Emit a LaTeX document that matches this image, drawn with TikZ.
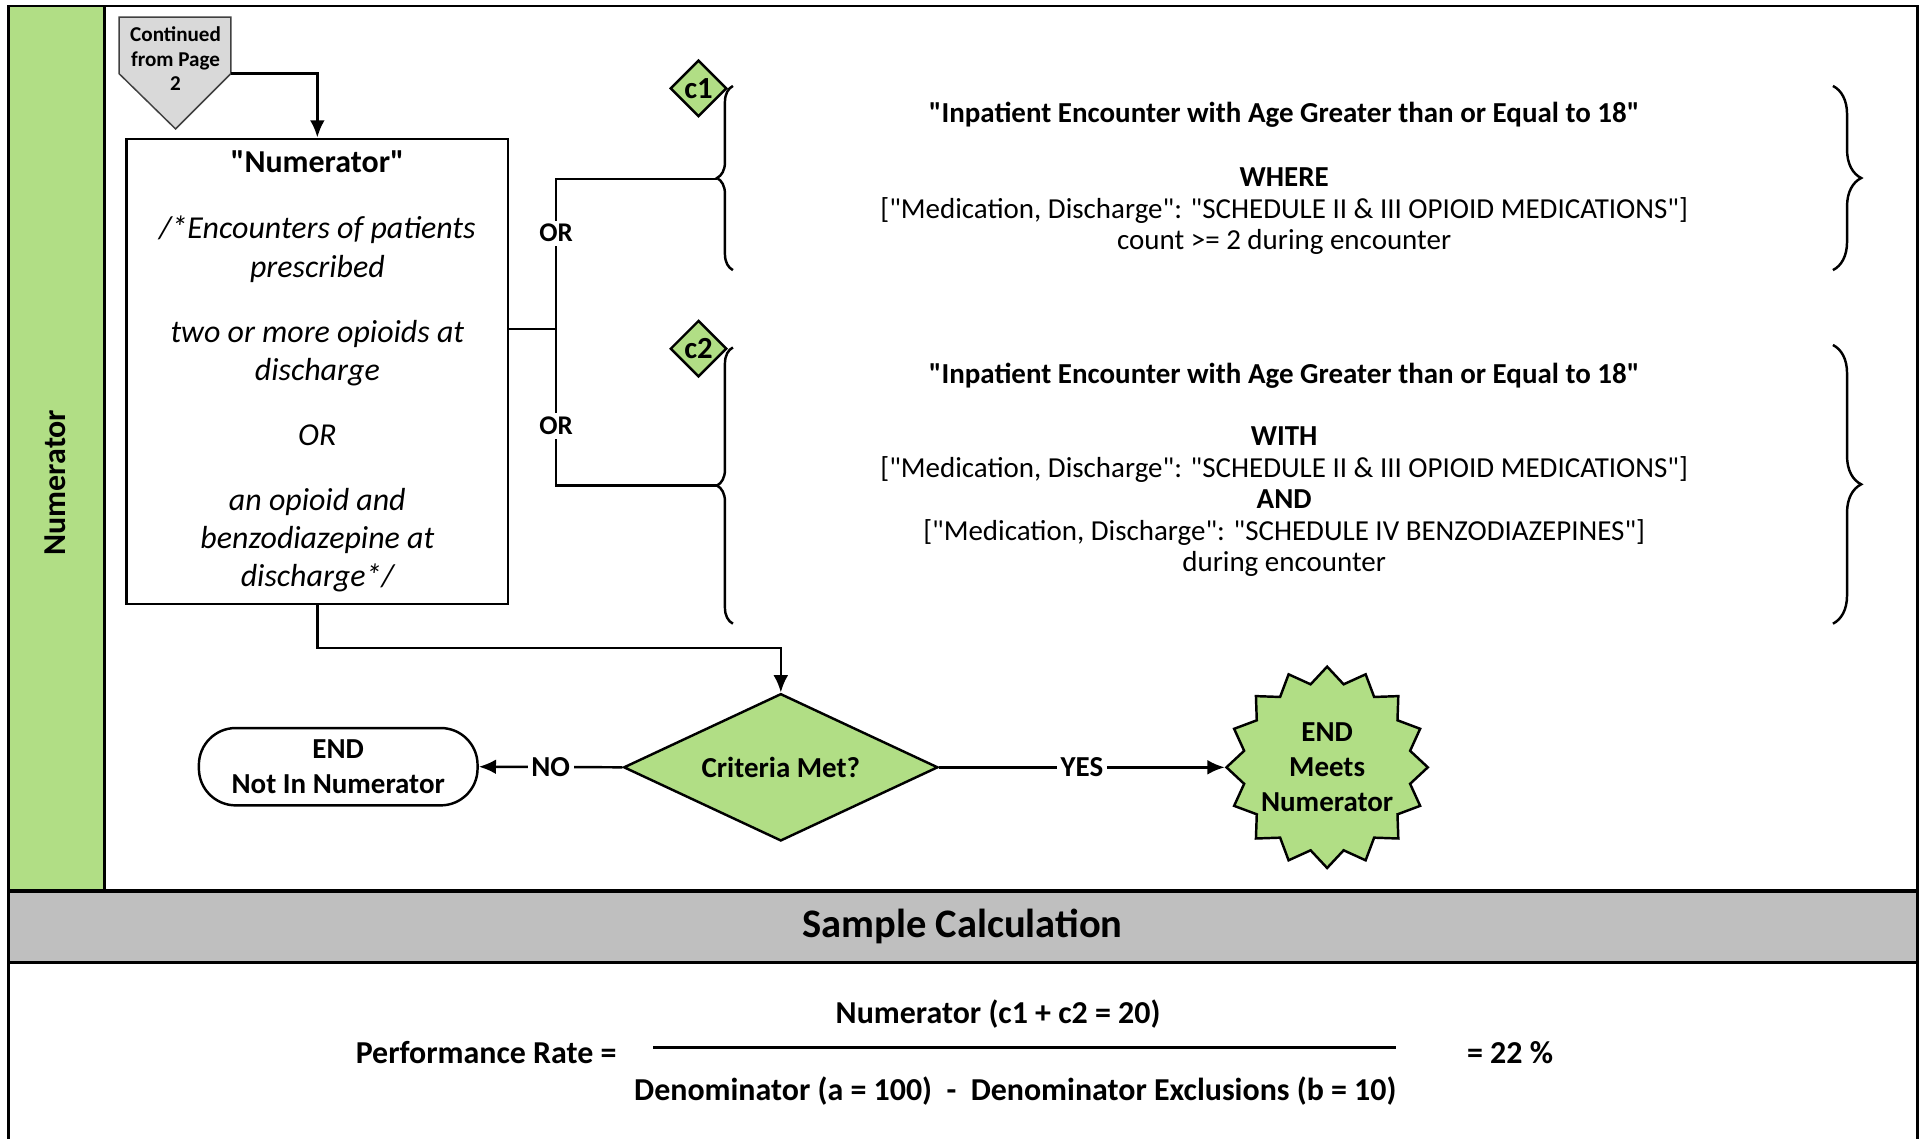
\documentclass[tikz,border=0pt]{standalone}
\usepackage{fontspec}
\setmainfont{Carlito}[Ligatures=TeXOff]
\usetikzlibrary{shapes.geometric,arrows.meta,decorations.pathreplacing}
\definecolor{lanegreen}{RGB}{177,222,133}
\definecolor{bandgray}{RGB}{191,191,191}
\definecolor{pagegray}{RGB}{217,217,217}
\tikzset{
  txt/.style={font=\fontsize{11.8}{12.8}\selectfont, align=center},
  boldtxt/.style={font=\bfseries\fontsize{13}{15}\selectfont},
  stepbox/.style={draw, minimum width=155.5pt, minimum height=189.5pt, inner sep=0pt, align=center, font=\itshape\fontsize{13}{15.5}\selectfont},
  decision/.style={diamond, draw, fill=lanegreen, aspect=2.13, minimum width=128pt, minimum height=60pt, inner sep=0pt, font=\bfseries\fontsize{11.8}{12.8}\selectfont},
  cmark/.style={diamond, draw, fill=lanegreen, minimum width=23pt, minimum height=23pt, inner sep=0pt, font=\bfseries\fontsize{12.5}{13}\selectfont},
  endbox/.style={draw, rounded corners=15pt, minimum width=113.5pt, minimum height=31.5pt, inner sep=0pt, align=center, font=\bfseries\fontsize{11.8}{14}\selectfont},
  burst/.style={star, star points=16, star point ratio=1.19, draw, fill=lanegreen, minimum size=82pt, inner sep=0pt},
  lbl/.style={fill=white, inner sep=1.5pt, font=\bfseries\fontsize{11.8}{12.8}\selectfont},
  orlbl/.style={fill=white, inner sep=1.5pt, font=\bfseries\fontsize{11}{12}\selectfont},
  curly/.style={decorate, decoration={brace, amplitude=#1}}
}
\begin{document}
\begin{tikzpicture}[x=0.5pt, y=-0.5pt, line width=1pt, >={Latex[length=7pt,width=6pt]}]
\useasboundingbox (0,0) rectangle (1568,927);
% lane and band
\fill[lanegreen] (7,5) rectangle (85,726);
\fill[bandgray] (7,726) rectangle (1562,784);
\draw (7,935) -- (7,5) -- (1562,5) -- (1562,935);
\draw (85,5) -- (85,726);
\draw[line width=1.6pt] (7,726) -- (1562,726);
\draw[line width=1.6pt] (7,784) -- (1562,784);
\node[rotate=90, boldtxt] (lane) at (45,393) {Numerator};
\node[font=\bfseries\fontsize{16.5}{19}\selectfont] (calc) at (784,755) {Sample Calculation};

% off-page connector
\draw[line width=0.6pt, draw=black!75, fill=pagegray] (97,14) -- (188,14) -- (188,60) -- (143,105) -- (97,60) -- cycle;
\node[font=\bfseries\fontsize{8.6}{10}\selectfont, align=center] (cont) at (143,48) {Continued\\from Page\\2};
\coordinate (contR) at (188,60);

\node[stepbox] (num) at (258.5,302.5) {{\bfseries\upshape "Numerator"}\\[11.5pt]
  /*Encounters of patients\\prescribed\\[11pt]
  two or more opioids at\\discharge\\[11pt]
  OR\\[11pt]
  an opioid and\\benzodiazepine at\\discharge*/};
\draw[->] (contR) -| (num.north);

% c1 / c2 branches
\coordinate (jn) at (453,268);
\coordinate (b1) at (584,146);
\coordinate (b2) at (584,395.5);
\draw (num.east |- jn) -- (jn);
\draw (jn) -- node[orlbl, pos=0.64] (or1) {OR} (jn |- b1) -- (b1);
\draw (jn) -- node[orlbl, pos=0.62] (or2) {OR} (jn |- b2) -- (b2);
\draw[curly=6.5pt] (597,220) -- (597,70);
\draw[curly=6.5pt] (597,508) -- (597,283);
\draw[curly=11.5pt] (1493,70) -- (1493,220);
\draw[curly=11.5pt] (1493,281) -- (1493,508);
\node[cmark] (c1) at (569,72) {c1};
\node[cmark] (c2) at (569,284) {c2};

\node[txt] (c1txt) at (1046,145.5) {{\bfseries "Inpatient Encounter with Age Greater than or Equal to 18"}\\[13.2pt]
  {\bfseries WHERE}\\{}["Medication, Discharge": "SCHEDULE II \& III OPIOID MEDICATIONS"]\\
  count >= 2 during encounter};
\node[txt] (c2txt) at (1046,382.5) {{\bfseries "Inpatient Encounter with Age Greater than or Equal to 18"}\\[12.7pt]
  {\bfseries WITH}\\{}["Medication, Discharge": "SCHEDULE II \& III OPIOID MEDICATIONS"]\\
  {\bfseries AND}\\{}["Medication, Discharge": "SCHEDULE IV BENZODIAZEPINES"]\\
  during encounter};

% decision
\node[decision] (crit) at (636,625) {Criteria Met?};
\draw[->] (num.south) -- ++(0,35) -| (crit.north);
\node[endbox] (nope) at (275.5,624.5) {END\\Not In Numerator};
\draw[->] (crit.west) -- node[lbl] (no) {NO} (nope.east);
\node[burst] (meets) at (1081,625) {};
\node[align=center, font=\bfseries\fontsize{11.8}{14.2}\selectfont] (meetstxt) at (meets.center) {END\\Meets\\Numerator};
\draw[->] (crit.east) -- node[lbl] (yes) {YES} (meets.west);

% sample calculation
\node[boldtxt] (rate) at (396,857) {Performance Rate =};
\coordinate (fracL) at (532,853);
\coordinate (fracR) at (1137,853);
\draw[line width=1.2pt] (fracL) -- (fracR);
\node[boldtxt] (numer) at (813,826) {Numerator (c1 + c2 = 20)};
\node[boldtxt] (denom) at (827,889) {Denominator (a = 100)\ \ -\ \ Denominator Exclusions (b = 10)};
\node[boldtxt] (pct) at (1230,857) {= 22 \%};
\end{tikzpicture}
\end{document}
